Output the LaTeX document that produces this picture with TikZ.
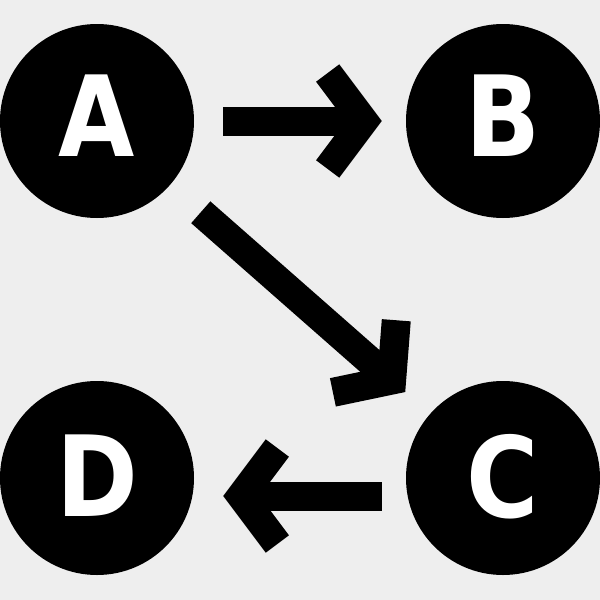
\documentclass[tikz,border=0pt]{standalone}
\usepackage{fontspec}
\newfontfamily\dejavu[FakeStretch=0.88]{DejaVu Sans}
\usetikzlibrary{arrows.meta,calc}
\definecolor{bggray}{HTML}{EEEEEE}

\tikzset{
	letter/.style={circle, fill=black, minimum size=194pt, inner sep=0pt,
		text=white, text depth=7pt, font=\dejavu\bfseries\fontsize{112}{112}\selectfont},
	link/.style={line width=29pt, line cap=butt,
		-{Straight Barb[sharp, length=36pt, width=96pt]}}
}

\begin{document}
\begin{tikzpicture}[x=1pt, y=-1pt]
		\fill[bggray] (0,0) rectangle (600,600);
		\node[letter, text depth=10pt] (A) at (97,121) {A};
		\node[letter, text depth=10pt] (B) at (503,121) {B};
		\node[letter, text depth=4pt] (C) at (503,478) {C};
		\node[letter, text depth=4pt] (D) at (97,478) {D};
		\draw[link, shorten <=29pt, shorten >=24pt] (A) -- (B);
		\draw[link, shorten <=41pt, shorten >=33pt] (A) -- (C);
		\draw[link, shorten <=24pt, shorten >=29pt] ([yshift=-18pt]C.west) -- ([yshift=-18pt]D.east);
	\end{tikzpicture}
\end{document}
